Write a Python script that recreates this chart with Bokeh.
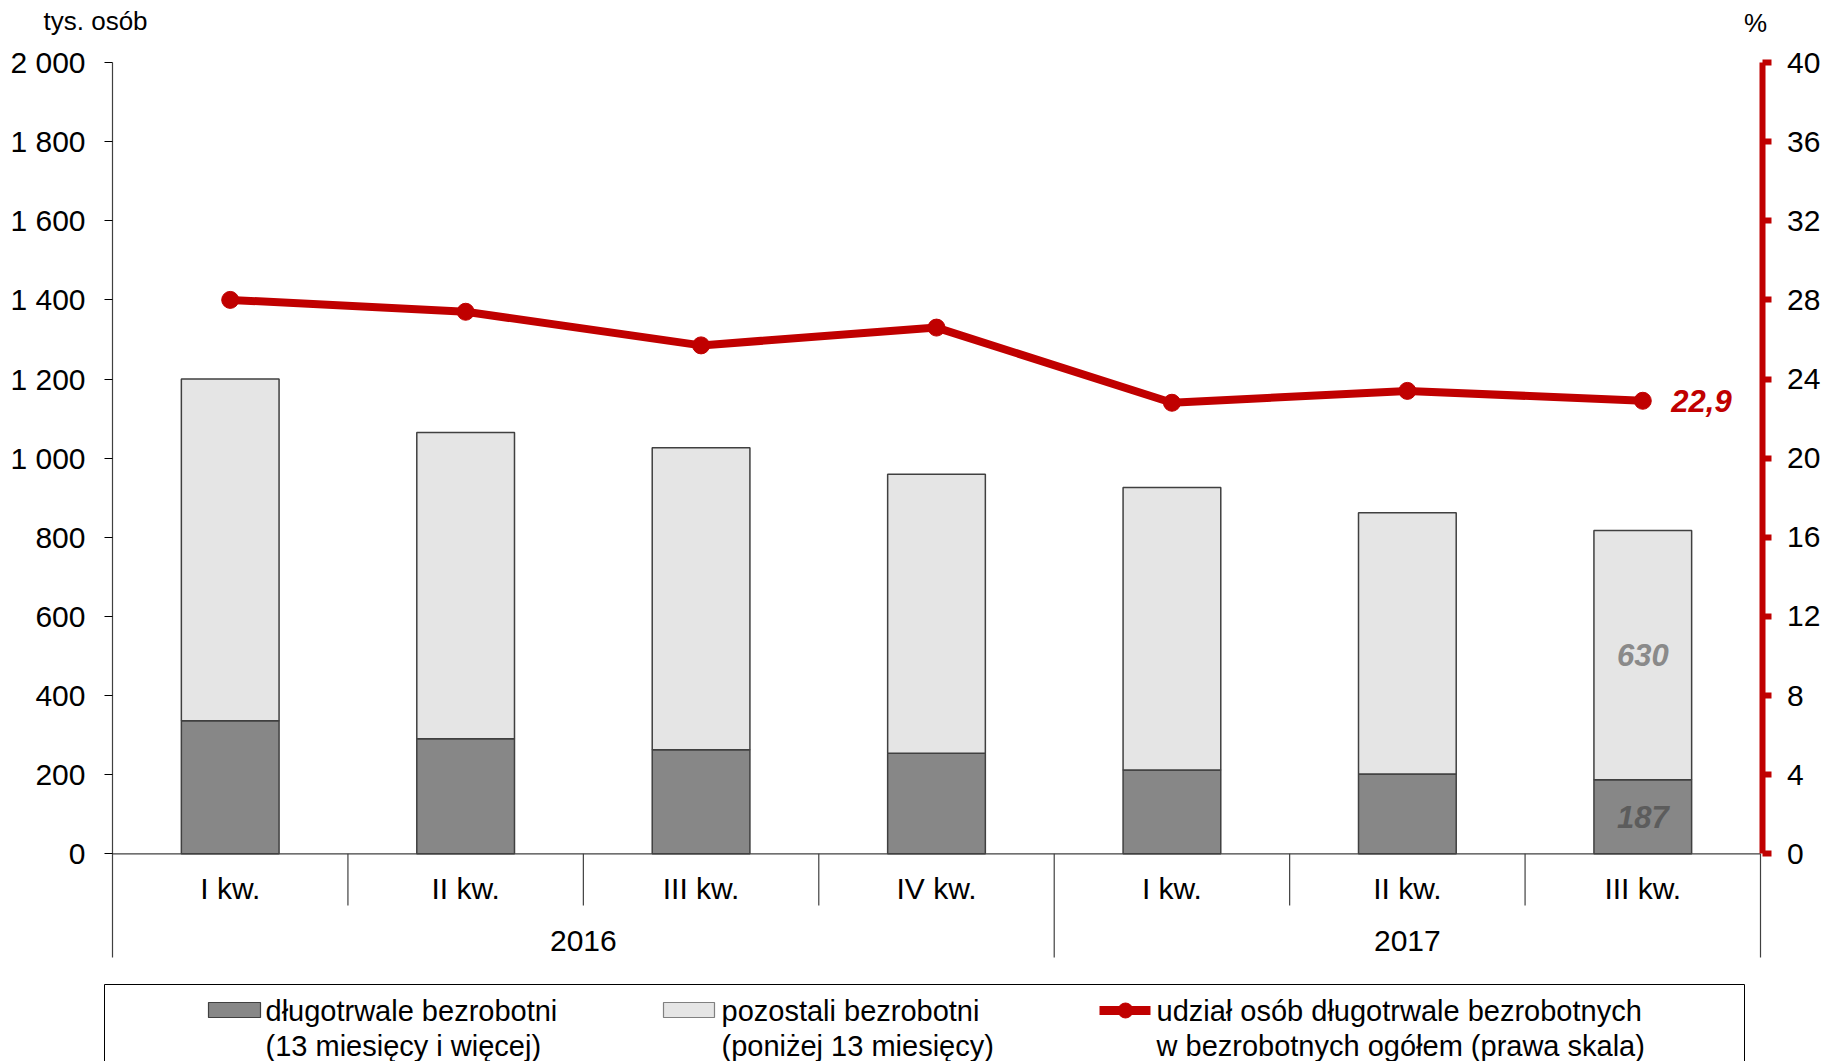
from bokeh.plotting import figure
from bokeh.models import Range1d, LinearAxis, FixedTicker
from bokeh.embed import file_html
from bokeh.resources import INLINE
from bokeh.core.properties import value

# ---------------- data ----------------
quarters = ["I kw.", "II kw.", "III kw.", "IV kw.", "I kw.", "II kw.", "III kw."]
years = ["2016", "2017"]
quarters_per_year = [4, 3]
long_term = [336, 291, 263, 254, 212, 202, 187]      # długotrwale bezrobotni
other = [864, 774, 763, 705, 714, 660, 630]          # pozostali bezrobotni
share = [28.0, 27.4, 25.7, 26.6, 22.8, 23.4, 22.9]   # udział, %
y_ticks = [0, 200, 400, 600, 800, 1000, 1200, 1400, 1600, 1800, 2000]
y_tick_labels = ["0", "200", "400", "600", "800", "1 000", "1 200", "1 400", "1 600", "1 800", "2 000"]
y2_ticks = [0, 4, 8, 12, 16, 20, 24, 28, 32, 36, 40]
y2_tick_labels = ["0", "4", "8", "12", "16", "20", "24", "28", "32", "36", "40"]
legend_labels = ["długotrwale bezrobotni\n(13 miesięcy i więcej)",
                 "pozostali bezrobotni\n(poniżej 13 miesięcy)",
                 "udział osób długotrwale bezrobotnych\nw bezrobotnych ogółem (prawa skala)"]
unit_left = "tys. osób"
unit_right = "%"

FONT = "Liberation Sans"
RED = "#C00000"
DARK = "#878787"
LIGHT = "#E5E5E5"
EDGE = "#404040"

# ---------------- layout (canvas pixels) ----------------
CW, CH = 1824, 1061
AX_L, AX_R = 112, 1760
Y_TOP, Y_ZERO = 62, 853.3
n = len(quarters)
ux = (AX_R - AX_L) / n
uy = (Y_ZERO - Y_TOP) / 2000


def X(px):
    return -0.5 + (px - AX_L) / ux


def Y(py):
    return (Y_ZERO - py) / uy


idx = list(range(n))
totals = [a + b for a, b in zip(long_term, other)]

p = figure(width=CW, height=CH, x_range=Range1d(X(0), X(CW)), y_range=Range1d(Y(CH), Y(0)),
           output_backend="svg", toolbar_location=None, min_border=0,
           x_axis_location=None, y_axis_location=None)
p.outline_line_color = None
p.background_fill_color = "white"
p.border_fill_color = "white"
for g in p.grid:
    g.visible = False

p.extra_y_ranges = {"pct": Range1d(Y(CH) * 40 / 2000, Y(0) * 40 / 2000)}

# left axis (its line continues down as the outer separator)
ax = LinearAxis(ticker=FixedTicker(ticks=y_ticks), bounds=(Y(957), 2000), fixed_location=-0.5,
                major_label_overrides={t: l for t, l in zip(y_ticks, y_tick_labels)})
ax.axis_line_color = EDGE
ax.axis_line_width = 1.2
ax.major_tick_line_color = "black"
ax.major_tick_line_width = 1.2
ax.major_tick_in = 0
ax.major_tick_out = 8
ax.minor_tick_line_color = None
ax.major_label_standoff = 19
ax.major_label_text_font = FONT
ax.major_label_text_font_size = "30px"
ax.major_label_text_color = "black"
p.add_layout(ax, "left")

ax2 = LinearAxis(y_range_name="pct", ticker=FixedTicker(ticks=y2_ticks), bounds=(0, 40),
                 fixed_location=X(1761.5),
                 major_label_overrides={t: l for t, l in zip(y2_ticks, y2_tick_labels)})
ax2.axis_line_color = RED
ax2.axis_line_width = 6
ax2.major_tick_line_color = RED
ax2.major_tick_line_width = 6
ax2.major_tick_in = 0
ax2.major_tick_out = 9
ax2.minor_tick_line_color = None
ax2.major_label_standoff = 16
ax2.major_label_text_font = FONT
ax2.major_label_text_font_size = "30px"
ax2.major_label_text_color = "black"
p.add_layout(ax2, "right")

# bars
BW = 0.415
p.vbar(x=idx, bottom=0, top=long_term, width=BW, fill_color=DARK, line_color=EDGE, line_width=1.5)
p.vbar(x=idx, bottom=long_term, top=totals, width=BW, fill_color=LIGHT, line_color=EDGE, line_width=1.5)

# category axis: baseline, separators, labels
p.segment(x0=[-0.5], x1=[n - 0.5], y0=[0], y1=[0], line_color=EDGE, line_width=1.2)

short_sep, long_sep = Y(905), Y(957)
sx = []
year_centers = []
year_bounds = []
start = 0
for cnt in quarters_per_year:
    year_centers.append(start + (cnt - 1) / 2)
    for k in range(1, cnt):
        sx.append(start + k - 0.5)
    start += cnt
    year_bounds.append(start - 0.5)
p.segment(x0=sx, x1=sx, y0=[0] * len(sx), y1=[short_sep] * len(sx), line_color=EDGE, line_width=1.2)
p.segment(x0=year_bounds, x1=year_bounds, y0=[0] * len(year_bounds), y1=[long_sep] * len(year_bounds),
          line_color=EDGE, line_width=1.2)

p.text(x=idx, y=[Y(888)] * n, text=quarters, text_align="center", text_baseline="middle",
       text_font=value(FONT), text_font_size="30px", text_color="black")
p.text(x=year_centers, y=[Y(940)] * len(years), text=years, text_align="center", text_baseline="middle",
       text_font=value(FONT), text_font_size="30px", text_color="black")

# share line
p.line(x=idx, y=share, y_range_name="pct", line_color=RED, line_width=8)
p.scatter(x=idx, y=share, y_range_name="pct", size=17, fill_color=RED, line_color=RED)

last = n - 1
p.text(x=[last], y=[share[last]], y_range_name="pct", text=[f"{share[last]:.1f}".replace(".", ",")],
       x_offset=28.5, text_align="left", text_baseline="middle", text_font=value(FONT),
       text_font_size="31px", text_font_style="bold italic", text_color=RED)
p.text(x=[last, last], y=[long_term[last] / 2, long_term[last] + other[last] / 2],
       text=[str(long_term[last]), str(other[last])], text_align="center", text_baseline="middle",
       text_font=value(FONT), text_font_size="31px", text_font_style="bold italic",
       text_color=["#5c5c5c", "#8a8a8a"])

# unit labels
p.text(x=[X(43)], y=[Y(20.7)], text=[unit_left], text_align="left", text_baseline="middle",
       text_font=value(FONT), text_font_size="26px", text_color="black")
p.text(x=[X(1755)], y=[Y(22)], text=[unit_right], text_align="center", text_baseline="middle",
       text_font=value(FONT), text_font_size="26px", text_color="black")

# legend
p.quad(left=[X(104)], right=[X(1744)], top=[Y(984)], bottom=[Y(CH + 30)],
       fill_color=None, line_color="black", line_width=1)
p.quad(left=[X(208)], right=[X(260)], top=[Y(1002)], bottom=[Y(1017)],
       fill_color=DARK, line_color=EDGE, line_width=1.2)
p.quad(left=[X(663)], right=[X(714)], top=[Y(1002)], bottom=[Y(1017)],
       fill_color=LIGHT, line_color="#808080", line_width=1.2)
p.line(x=[X(1099), X(1150)], y=[Y(1010), Y(1010)], line_color=RED, line_width=9)
p.scatter(x=[X(1125)], y=[Y(1010)], size=15, fill_color=RED, line_color=RED)
p.text(x=[X(265), X(721), X(1156)], y=[Y(1028)] * 3, text=legend_labels, text_align="left",
       text_baseline="middle", text_font=value(FONT), text_font_size="29px",
       text_line_height=1.08, text_color="black")

open("out.html", "w").write(file_html(p, INLINE))
